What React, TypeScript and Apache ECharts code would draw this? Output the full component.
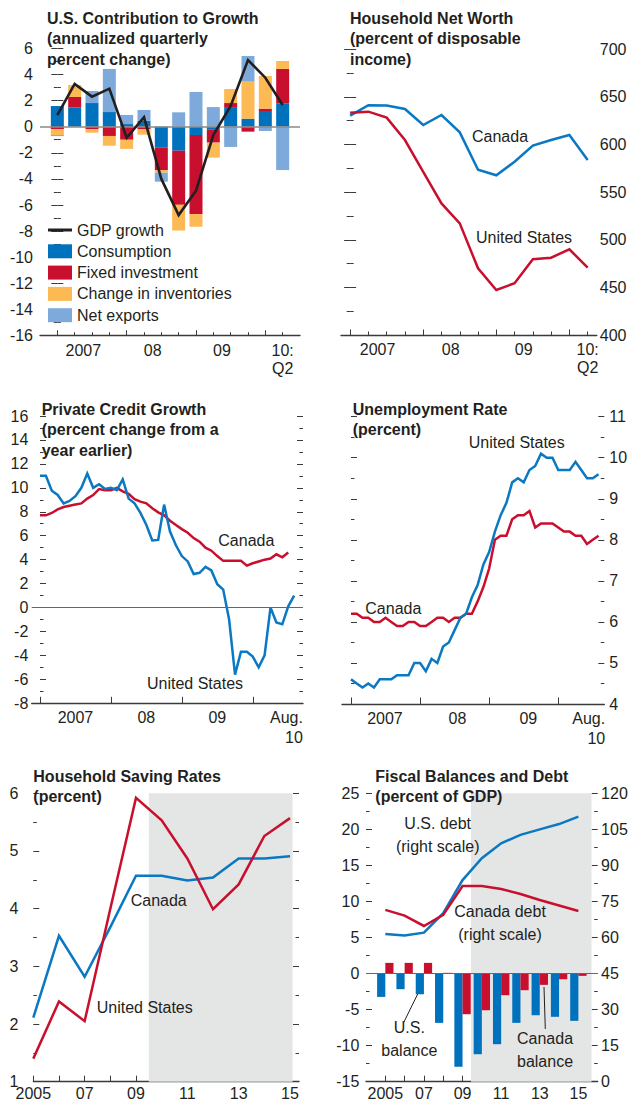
import React, { useEffect, useRef } from 'react';
import * as echarts from 'echarts';

const FONT = '"Liberation Sans", Arial, Helvetica, sans-serif';
const TXT = '#231f20';
const AX = '#3a3a3a';
const BLUE = '#0a78c2';
const RED = '#c8102e';
const C_CONS = '#0071bc';
const C_FIX = '#c8102e';
const C_INV = '#fdb954';
const C_NX = '#7eaadb';
const SHADE = '#e4e6e6';

// ---------- Panel 1: U.S. contribution to growth (quarterly, 2007Q1-2010Q2)
const quarters = ['2007Q1', '2007Q2', '2007Q3', '2007Q4', '2008Q1', '2008Q2', '2008Q3', '2008Q4', '2009Q1', '2009Q2', '2009Q3', '2009Q4', '2010Q1', '2010Q2'];
const consumption = [1.58, 1.46, 1.81, 1.12, 0.2, 0.46, -1.61, -1.84, -0.64, -0.2, 1.5, 0.61, 1.2, 1.76];
const fixedInvestment = [-0.18, 0.81, -0.18, -0.71, -1.0, -0.2, -1.71, -4.14, -6.05, -1.02, 0.31, -0.38, 0.18, 2.66];
const inventories = [-0.46, 0.92, -0.28, -0.75, -0.7, -0.41, -0.2, -1.97, -0.97, -1.15, 1.07, 2.84, 2.5, 0.61];
const netExports = [-0.08, 0, 0.92, 3.3, 0.7, 0.82, -0.69, 1.1, 2.66, 1.5, -1.55, 1.96, -0.33, -3.32];
const gdpGrowth = [0.89, 3.27, 2.3, 2.91, -0.85, 0.72, -4.0, -6.77, -4.9, -0.64, 1.58, 5.1, 3.75, 1.66];
const qMajorTicks = [0, 4, 8, 12];
const qLabelPos = [1.5, 5.5, 9.5, 13];
const qLabels = ['2007', '08', '09', '10:\nQ2'];

// ---------- Panel 2: Household net worth (% of disposable income)
const nwCanada = [630.3, 641.3, 641, 637.3, 620.5, 631, 612.8, 573.5, 567.7, 582, 598.8, 604.8, 610, 583.8];
const nwUS = [633.4, 634.5, 628.2, 604.7, 571.4, 538.2, 517.2, 470, 447.3, 454.3, 479.5, 481.2, 490, 470.7];

// ---------- Panel 3: Private credit growth (monthly, Jan 2007 - Aug 2010)
const creditUS = [11.0, 11.0, 9.75, 9.4, 8.7, 8.9, 9.3, 10.0, 11.2, 10.0, 10.3, 9.9, 10.0, 9.8, 10.7, 9.1, 8.7, 7.9, 6.9, 5.6, 5.65, 8.6, 6.35, 5.2, 4.3, 3.85, 2.8, 2.9, 3.4, 3.1, 1.95, 1.5, -1.0, -5.6, -3.7, -3.7, -4.1, -5.0, -4.0, 0.0, -1.25, -1.4, 0.1, 1.0];
const creditCanada = [7.7, 7.7, 7.9, 8.2, 8.4, 8.5, 8.6, 8.7, 9.1, 9.4, 9.9, 9.8, 9.8, 10.0, 9.7, 9.5, 9.05, 8.85, 8.7, 8.3, 7.95, 7.7, 7.25, 6.9, 6.55, 6.25, 5.8, 5.5, 5.0, 4.75, 4.3, 3.9, 3.9, 3.9, 3.9, 3.5, 3.7, 3.85, 4.0, 4.1, 4.45, 4.2, 4.6];
const mMajorTicks = [0, 12, 24, 36];
const mLabels = ['2007', '08', '09', 'Aug.\n10'];
const mLabelPos3 = [6, 18, 30, 41.7];
const mLabelPos4 = [5.9, 18.5, 30.8, 41.3];

// ---------- Panel 4: Unemployment rate (monthly, Jan 2007 - Aug 2010)
const unempUS = [4.6, 4.5, 4.4, 4.5, 4.4, 4.6, 4.6, 4.6, 4.7, 4.7, 4.7, 5.0, 5.0, 4.8, 5.1, 5.0, 5.4, 5.5, 5.8, 6.1, 6.2, 6.6, 6.9, 7.4, 7.7, 8.2, 8.6, 8.9, 9.4, 9.5, 9.4, 9.7, 9.8, 10.1, 10.0, 10.0, 9.7, 9.7, 9.7, 9.9, 9.7, 9.5, 9.5, 9.6];
const unempCanada = [6.2, 6.2, 6.1, 6.1, 6.0, 6.0, 6.1, 6.0, 5.9, 5.9, 6.0, 6.0, 5.9, 5.9, 6.0, 6.1, 6.1, 6.0, 6.1, 6.1, 6.2, 6.2, 6.5, 6.85, 7.3, 8.0, 8.1, 8.1, 8.5, 8.6, 8.6, 8.7, 8.3, 8.4, 8.4, 8.4, 8.3, 8.2, 8.2, 8.1, 8.1, 7.9, 8.0, 8.1];

// ---------- Panel 5: Household saving rates (annual, 2005-2015)
const years = [2005, 2006, 2007, 2008, 2009, 2010, 2011, 2012, 2013, 2014, 2015];
const savingUS = [1.4, 2.39, 2.05, 4.0, 5.92, 5.53, 4.87, 3.99, 4.42, 5.26, 5.57];
const savingCanada = [2.11, 3.53, 2.82, 3.68, 4.57, 4.57, 4.49, 4.54, 4.87, 4.87, 4.91];
const yearLabelPos = [2005, 2007, 2009, 2011, 2013, 2015];
const yearLabels = ['2005', '07', '09', '11', '13', '15'];
const projectionStart = 2009.5;

// ---------- Panel 6: Fiscal balances and debt (% of GDP)
const balanceUS = [-3.24, -2.17, -2.87, -6.84, -12.94, -11.19, -9.8, -6.84, -5.78, -6.0, -6.56];
const balanceCanada = [1.48, 1.48, 1.48, 0.1, -5.64, -5.09, -3.0, -2.31, -1.57, -0.79, -0.32];
const debtUS = [61.5, 60.8, 62.0, 70.1, 83.9, 93.0, 99.2, 102.7, 105.0, 107.2, 110.3];
const debtCanada = [71.5, 69.1, 64.8, 69.4, 81.4, 81.4, 80.2, 78.1, 75.6, 73.3, 71.0];

const quarterIdx = quarters.map((_, i) => i);
const monthIdx = unempUS.map((_, i) => i);
const xy = (xs: number[], ys: number[]) => ys.map((v, i) => [xs[i], v]);
// padded category list for the stacked bars (one empty slot each side of the quarters)
const barCats = ['', ...quarters, ''];
const padded = (vals: number[]) => [null, ...vals, null];

const lab = (pos: number[], texts: string[]) => (v: number) => {
  const i = pos.findIndex((p) => Math.abs(p - v) < 1e-6);
  return i >= 0 ? texts[i] : '';
};

function xAxis(grid: number, min: number, max: number, ticks: number[], tickLen: number, labelPos: number[] | null, labels: string[] | null, margin: number, lineHeight: number, showLine = true, rich?: any) {
  return {
    gridIndex: grid,
    type: 'value',
    min,
    max,
    position: 'bottom',
    axisLine: { show: showLine, onZero: false, lineStyle: { color: AX, width: 1.3 } },
    axisTick: { show: true, inside: true, length: tickLen, customValues: ticks, lineStyle: { color: AX, width: 1 } },
    axisLabel: labelPos
      ? {
          show: true,
          customValues: labelPos,
          formatter: lab(labelPos, labels as string[]),
          margin,
          fontSize: 16,
          fontFamily: FONT,
          color: TXT,
          lineHeight,
          rich,
        }
      : { show: false },
    splitLine: { show: false },
  };
}

function yAxis(grid: number, position: string, min: number, max: number, interval: number, showLabel: boolean, margin: number) {
  return {
    gridIndex: grid,
    type: 'value',
    position,
    min,
    max,
    interval,
    axisLine: { show: false },
    axisTick: { show: true, inside: true, length: 6, lineStyle: { color: AX, width: 1 } },
    minorTick: { show: true, splitNumber: 2, length: 3.5, lineStyle: { color: AX, width: 1 } },
    axisLabel: { show: showLabel, margin, fontSize: 16, fontFamily: FONT, color: TXT },
    splitLine: { show: false },
    minorSplitLine: { show: false },
  };
}

const titleText = (x: number, y: number, text: string) => ({
  type: 'text',
  x,
  y,
  style: { text, font: `bold 16px ${FONT}`, fill: TXT, lineHeight: 20.5, textVerticalAlign: 'top' },
  z: 100,
});
const noteText = (x: number, y: number, text: string, align = 'left') => ({
  type: 'text',
  x,
  y,
  style: { text, font: `16px ${FONT}`, fill: TXT, lineHeight: 23, textAlign: align, textVerticalAlign: 'middle' },
  z: 100,
});

function buildOption() {
  const grids = [
    { left: 40, top: 48.3, width: 260, height: 287.4 },
    { left: 341, top: 49.3, width: 255.8, height: 285.7 },
    { left: 31.7, top: 416, width: 271.3, height: 287.3 },
    { left: 342, top: 416.7, width: 262.3, height: 287.3 },
    { left: 33.3, top: 793.3, width: 265.7, height: 288.4 },
    { left: 366, top: 793.3, width: 231.7, height: 288.4 },
  ].map((g) => ({ ...g, containLabel: false, outerBoundsMode: 'none' }));

  const augRich = { a: { fontSize: 16, fontFamily: FONT, color: TXT, lineHeight: 20 }, b: { fontSize: 16, fontFamily: FONT, color: TXT, lineHeight: 20, align: 'right' } };
  const augFmt = (pos: number[]) => (v: number) => {
    const i = pos.findIndex((p) => Math.abs(p - v) < 1e-6);
    if (i < 0) return '';
    if (i === 3) return '{a|Aug.}\n{b|10}';
    return `{a|${mLabels[i]}}`;
  };

  const xAxes: any[] = [
    xAxis(0, -1, 14, quarterIdx, 3.5, qLabelPos, qLabels, 6, 17.6),
    xAxis(0, -1, 14, qMajorTicks, 5.5, null, null, 0, 0, false),
    xAxis(1, -0.5, 13.5, quarterIdx, 3.5, qLabelPos, qLabels, 6, 17.6),
    xAxis(1, -0.5, 13.5, qMajorTicks, 5.5, null, null, 0, 0, false),
    xAxis(2, -1.4, 44.5, mMajorTicks, 6.5, mLabelPos3, mLabels, 4, 20, true, augRich),
    xAxis(3, -1.56, 44, mMajorTicks, 6.5, mLabelPos4, mLabels, 4, 20, true, augRich),
    xAxis(4, 2005, 2015.35, years, 6, yearLabelPos, yearLabels, 3, 18),
    xAxis(5, 2004, 2016, years, 6, yearLabelPos, yearLabels, 3, 18),
    {
      gridIndex: 0,
      type: 'category',
      data: barCats,
      boundaryGap: false,
      show: false,
      axisLine: { show: false, onZero: false },
      axisTick: { show: false },
      axisLabel: { show: false },
      splitLine: { show: false },
    },
  ];
  xAxes[4].axisLabel.formatter = augFmt(mLabelPos3);
  xAxes[5].axisLabel.formatter = augFmt(mLabelPos4);

  const yAxes = [
    yAxis(0, 'left', -16, 6, 2, true, 7),
    yAxis(0, 'right', -16, 6, 2, false, 3),
    yAxis(1, 'left', 400, 700, 50, false, 3),
    yAxis(1, 'right', 400, 700, 50, true, 3),
    yAxis(2, 'left', -8, 16, 2, true, 3.4),
    yAxis(2, 'right', -8, 16, 2, false, 3),
    yAxis(3, 'left', 4, 11, 1, false, 3),
    yAxis(3, 'right', 4, 11, 1, true, 5),
    yAxis(4, 'left', 1, 6, 1, true, 15),
    yAxis(4, 'right', 1, 6, 1, false, 3),
    yAxis(5, 'left', -15, 25, 5, true, 6.7),
    yAxis(5, 'right', 0, 120, 15, true, 3.4),
  ];

  const lineS = (name: string, xi: number, yi: number, data: any[], color: string, z = 4, width = 2.5) => ({
    type: 'line',
    name,
    xAxisIndex: xi,
    yAxisIndex: yi,
    data,
    symbol: 'none',
    showSymbol: false,
    lineStyle: { color, width, join: 'miter' },
    itemStyle: { color },
    z,
  });
  const zeroLine = (color: string, width: number) => ({
    silent: true,
    symbol: ['none', 'none'],
    label: { show: false },
    lineStyle: { color, width, type: 'solid' },
    data: [{ yAxis: 0 }],
  });

  const barS = (name: string, data: number[], color: string, z = 2) => ({
    type: 'bar',
    name,
    xAxisIndex: 8,
    yAxisIndex: 0,
    stack: 'contrib',
    barWidth: 13,
    itemStyle: { color },
    data: padded(data),
    z,
  });

  const series: any[] = [
    barS('Consumption', consumption, C_CONS),
    barS('Fixed investment', fixedInvestment, C_FIX),
    barS('Change in inventories', inventories, C_INV),
    { ...barS('Net exports', netExports, C_NX, 3), markLine: zeroLine('#8a8a8a', 1.6) },
    lineS('GDP growth', 0, 0, xy(quarterIdx, gdpGrowth), '#231f20', 5, 2.6),

    lineS('Canada net worth', 2, 3, xy(quarterIdx, nwCanada), BLUE),
    lineS('United States net worth', 2, 3, xy(quarterIdx, nwUS), RED),

    { ...lineS('Canada credit', 4, 4, xy(monthIdx, creditCanada), RED, 3), markLine: zeroLine('#666', 1) },
    lineS('United States credit', 4, 4, xy(monthIdx, creditUS), BLUE, 4),

    lineS('Canada unemployment', 5, 7, xy(monthIdx, unempCanada), RED, 3),
    lineS('United States unemployment', 5, 7, xy(monthIdx, unempUS), BLUE, 4),

    {
      type: 'line',
      name: 'proj5',
      xAxisIndex: 6,
      yAxisIndex: 8,
      data: [],
      z: 0,
      markArea: { silent: true, itemStyle: { color: SHADE }, data: [[{ xAxis: projectionStart }, { xAxis: 2015.1 }]] },
    },
    lineS('Canada saving', 6, 8, xy(years, savingCanada), BLUE, 3),
    lineS('United States saving', 6, 8, xy(years, savingUS), RED, 4),

    {
      type: 'line',
      name: 'proj6',
      xAxisIndex: 7,
      yAxisIndex: 10,
      data: [],
      z: 0,
      markArea: { silent: true, itemStyle: { color: SHADE }, data: [[{ xAxis: 2009.44 }, { xAxis: 2015.68 }]] },
    },
    {
      type: 'bar',
      name: 'U.S. balance',
      xAxisIndex: 7,
      yAxisIndex: 10,
      barWidth: 8.2,
      barGap: '0%',
      itemStyle: { color: C_CONS },
      data: xy(years, balanceUS),
      z: 2,
    },
    {
      type: 'bar',
      name: 'Canada balance',
      xAxisIndex: 7,
      yAxisIndex: 10,
      barWidth: 8.2,
      barGap: '0%',
      itemStyle: { color: C_FIX },
      data: xy(years, balanceCanada),
      z: 2,
      markLine: zeroLine('#666', 1),
    },
    lineS('U.S. debt', 7, 11, xy(years, debtUS), BLUE, 4),
    lineS('Canada debt', 7, 11, xy(years, debtCanada), RED, 4),
  ];

  const graphic = [
    titleText(47, 8, 'U.S. Contribution to Growth\n(annualized quarterly\npercent change)'),
    titleText(350, 8, 'Household Net Worth\n(percent of disposable\nincome)'),
    titleText(41.7, 399, 'Private Credit Growth\n(percent change from a\nyear earlier)'),
    titleText(352.7, 399, 'Unemployment Rate\n(percent)'),
    titleText(33.3, 766, 'Household Saving Rates\n(percent)'),
    titleText(375.3, 766, 'Fiscal Balances and Debt\n(percent of GDP)'),

    noteText(472, 136, 'Canada'),
    noteText(476, 237.3, 'United States'),
    noteText(218.3, 540, 'Canada'),
    noteText(147, 683.3, 'United States'),
    noteText(468.7, 442.7, 'United States'),
    noteText(365.3, 608.3, 'Canada'),
    noteText(130.7, 900, 'Canada'),
    noteText(96.7, 1007.3, 'United States'),
    noteText(437.7, 834.5, 'U.S. debt\n(right scale)', 'center'),
    noteText(500, 922.5, 'Canada debt\n(right scale)', 'center'),
    noteText(409.3, 1039.2, 'U.S.\nbalance', 'center'),
    noteText(545, 1049.5, 'Canada\nbalance', 'center'),
    { type: 'line', shape: { x1: 403.7, y1: 1022.5, x2: 417.7, y2: 994 }, style: { stroke: TXT, lineWidth: 1 }, z: 100 },
    { type: 'line', shape: { x1: 545.3, y1: 1029, x2: 544, y2: 987 }, style: { stroke: TXT, lineWidth: 1 }, z: 100 },
  ];

  return {
    animation: false,
    backgroundColor: '#ffffff',
    textStyle: { fontFamily: FONT, color: TXT },
    grid: grids,
    xAxis: xAxes,
    yAxis: yAxes,
    legend: {
      orient: 'vertical',
      left: 48,
      top: 222,
      itemWidth: 24,
      itemHeight: 14,
      itemGap: 5.3,
      padding: 0,
      selectedMode: false,
      textStyle: { fontSize: 16, fontFamily: FONT, color: TXT, lineHeight: 16 },
      data: [
        { name: 'GDP growth', icon: 'path://M0,0 L24,0 L24,3 L0,3 Z', itemStyle: { color: '#231f20' } },
        { name: 'Consumption', icon: 'rect' },
        { name: 'Fixed investment', icon: 'rect' },
        { name: 'Change in inventories', icon: 'rect' },
        { name: 'Net exports', icon: 'rect' },
      ],
    },
    series,
    graphic: { elements: graphic },
  };
}

export default function App() {
  const ref = useRef<HTMLDivElement>(null);
  useEffect(() => {
    if (!ref.current) return;
    const chart = echarts.init(ref.current, null, { renderer: 'svg' });
    chart.setOption(buildOption() as any);
    return () => chart.dispose();
  }, []);
  return <div ref={ref} style={{ position: 'absolute', left: 0, top: 0, width: 632, height: 1104, background: '#fff' }} />;
}
